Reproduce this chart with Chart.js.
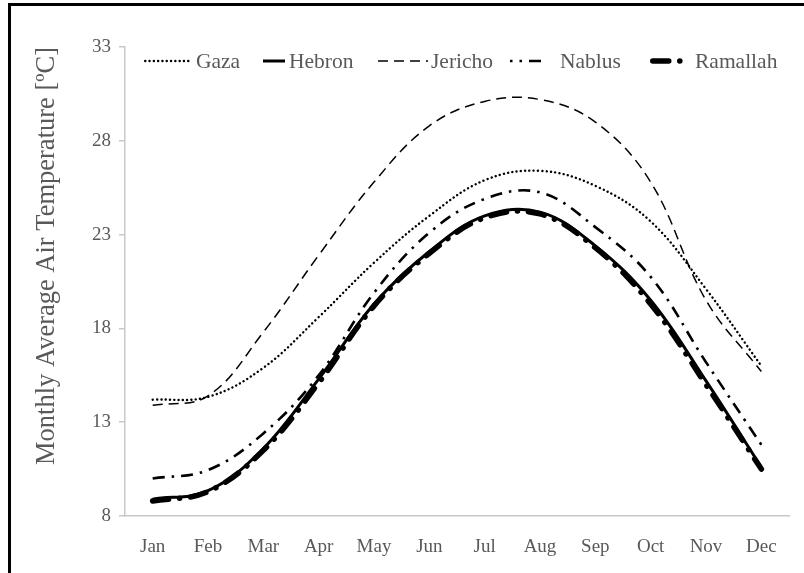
<!DOCTYPE html>
<html>
<head>
<meta charset="utf-8">
<script src="https://cdn.jsdelivr.net/npm/chart.js@4/dist/chart.umd.min.js"></script>
<style>
  html, body { margin: 0; padding: 0; background: #fff; }
  #wrap { position: relative; width: 804px; height: 573px; overflow: hidden; }
  #frame {
    position: absolute; left: 8px; top: 3px; width: 820px; height: 600px;
    border-top: 3px solid #000; border-left: 3px solid #000; pointer-events: none;
  }
  #legend {
    position: absolute; left: 0; top: 49px; height: 24px;
    font-family: "Liberation Serif", "Times New Roman", serif; font-size: 21.5px;
    color: #595959; line-height: 24px;
  }
  .legend-item { position: absolute; top: 0; display: flex; align-items: center; white-space: nowrap; }
</style>
</head>
<body>
<div id="wrap">
  <canvas id="chart" width="804" height="573"></canvas>
  <div id="legend"></div>
  <div id="frame"></div>
</div>
<script>
// monthly average air temperature
const months = ['Jan', 'Feb', 'Mar', 'Apr', 'May', 'Jun', 'Jul', 'Aug', 'Sep', 'Oct', 'Nov', 'Dec'];
const gaza = [14.2, 14.35, 15.9, 18.6, 21.5, 24.0, 25.9, 26.4, 25.6, 23.7, 20.1, 16.0];
const hebron = [8.9, 9.35, 11.6, 15.3, 19.3, 22.1, 24.0, 24.2, 22.4, 19.5, 15.2, 10.6];
const jericho = [13.9, 14.4, 17.8, 21.9, 25.8, 28.8, 30.1, 30.2, 29.0, 25.8, 19.5, 15.7];
const nablus = [10.0, 10.45, 12.4, 15.5, 19.9, 23.1, 24.9, 25.25, 23.4, 20.75, 16.2, 11.8];
const ramallah = [8.8, 9.3, 11.5, 15.1, 19.2, 22.0, 23.9, 24.1, 22.3, 19.3, 15.0, 10.5];
const yTicks = [8, 13, 18, 23, 28, 33];

const FONT = "'Liberation Serif', 'Times New Roman', serif";
const GREY = '#595959';

const series = [
  { label: 'Gaza', data: gaza, width: 2.4, dash: [0.1, 4.2], cap: 'round' },
  { label: 'Hebron', data: hebron, width: 3, dash: [], cap: 'butt' },
  { label: 'Jericho', data: jericho, width: 1.5, dash: [10, 6], cap: 'butt' },
  { label: 'Nablus', data: nablus, width: 2.6, dash: [12, 7, 2.5, 7], cap: 'butt' },
  { label: 'Ramallah', data: ramallah, width: 5.5, dash: [16, 11, 0.1, 11], cap: 'round' }
];

// legend placement: sample left edge, sample length, dash offset, gap before text
const legendLayout = [
  { left: 144, len: 47, offset: 0, gap: 5 },
  { left: 263, len: 22, offset: 0, gap: 4 },
  { left: 378, len: 50, offset: 0, gap: 3 },
  { left: 510, len: 36, offset: -19, gap: 14 },
  { left: 650, len: 42, offset: 0, gap: 3 }
];

new Chart(document.getElementById('chart'), {
  type: 'line',
  data: {
    labels: months,
    datasets: series.map(s => ({
      label: s.label,
      data: s.data,
      borderColor: '#000',
      borderWidth: s.width,
      borderDash: s.dash,
      borderCapStyle: s.cap,
      borderJoinStyle: 'round',
      pointRadius: 0,
      tension: 0.38,
      fill: false
    }))
  },
  options: {
    responsive: false,
    animation: false,
    layout: { padding: { left: 28, top: 47, right: 15, bottom: 0 } },
    plugins: { legend: { display: false }, tooltip: { enabled: false } },
    scales: {
      x: {
        offset: true,
        grid: { display: false },
        border: { color: '#c8c8c8', width: 1.5 },
        ticks: { color: GREY, font: { family: FONT, size: 19 }, padding: 12, maxRotation: 0, autoSkip: false },
        afterFit: s => { s.height = 57; }
      },
      y: {
        min: 8,
        max: 33,
        afterBuildTicks: s => { s.ticks = yTicks.map(v => ({ value: v })); },
        grid: { drawOnChartArea: false, drawTicks: true, tickLength: 6, color: '#c8c8c8', lineWidth: 1.5 },
        border: { color: '#c8c8c8', width: 1.5 },
        ticks: { color: GREY, font: { family: FONT, size: 19 }, padding: 8 },
        title: {
          display: true,
          text: 'Monthly Average Air Temperature [ºC]',
          align: 'end',
          color: GREY,
          font: { family: FONT, size: 26.5 },
          padding: { top: 3, bottom: 0 }
        },
        afterFit: s => { s.width = 97; }
      }
    }
  }
});

const legend = document.getElementById('legend');
series.forEach((s, i) => {
  const pos = legendLayout[i];
  const item = document.createElement('div');
  item.className = 'legend-item';
  item.style.left = pos.left + 'px';
  const pad = s.cap === 'round' ? s.width / 2 : 0;
  const w = pos.len;
  item.innerHTML = `<svg width="${w}" height="24"><line x1="${pad}" y1="12" x2="${w - pad}" y2="12" stroke="#000" stroke-width="${s.width}" stroke-linecap="${s.cap}" stroke-dasharray="${s.dash.join(' ') || 'none'}" stroke-dashoffset="${pos.offset}"/></svg><span style="margin-left:${pos.gap}px">${s.label}</span>`;
  legend.append(item);
});
</script>
</body>
</html>
